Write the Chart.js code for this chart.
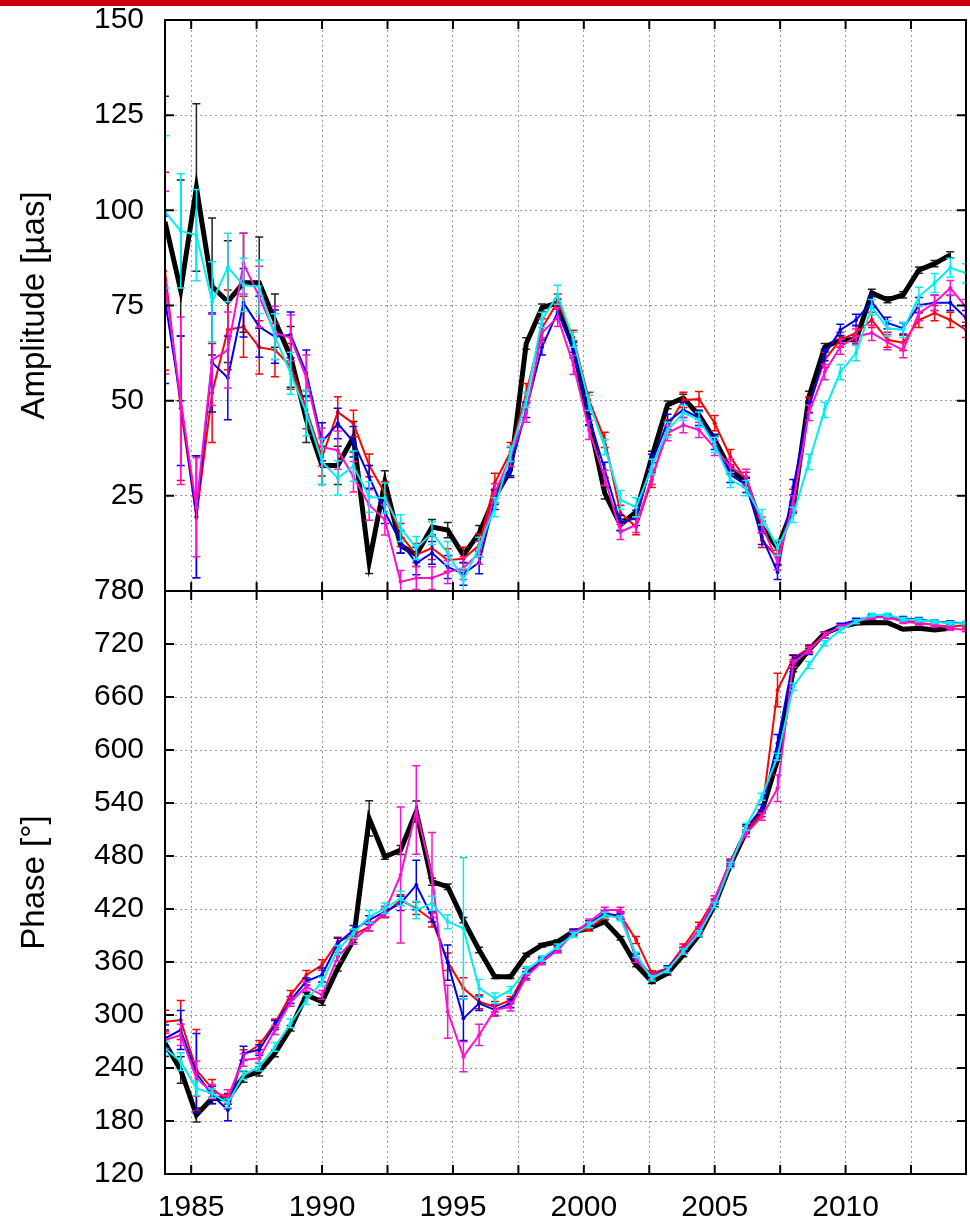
<!DOCTYPE html>
<html>
<head>
<meta charset="utf-8">
<title>Amplitude and phase</title>
<script src="https://cdn.jsdelivr.net/npm/chart.js@4.4.1/dist/chart.umd.min.js"></script>
<style>
  html, body { margin: 0; padding: 0; background: #fff; }
  #wrap { position: relative; width: 970px; height: 1223px; overflow: hidden; }
  #topbar { position: absolute; left: 0; top: 0; width: 970px; height: 6px; background: #c8000b; }
  canvas { position: absolute; left: 0; top: 0; }
</style>
</head>
<body>
<div id="wrap">
  <canvas id="amp-chart" width="970" height="1223"></canvas>
  <canvas id="phase-chart" width="970" height="1223"></canvas>
  <div id="topbar"></div>
</div>
<script>
// epochs of the solutions (years)
const epochs = [1984.0, 1984.6, 1985.2, 1985.8, 1986.4, 1987.0, 1987.6, 1988.2, 1988.8, 1989.4,
  1990.0, 1990.6, 1991.2, 1991.8, 1992.4, 1993.0, 1993.6, 1994.2, 1994.8, 1995.4,
  1996.0, 1996.6, 1997.2, 1997.8, 1998.4, 1999.0, 1999.6, 2000.2, 2000.8, 2001.4,
  2002.0, 2002.6, 2003.2, 2003.8, 2004.4, 2005.0, 2005.6, 2006.2, 2006.8, 2007.4,
  2008.0, 2008.6, 2009.2, 2009.8, 2010.4, 2011.0, 2011.6, 2012.2, 2012.8, 2013.4,
  2014.0, 2014.6];

const xTickValues = [1985, 1987.5, 1990, 1992.5, 1995, 1997.5, 2000, 2002.5, 2005, 2007.5, 2010, 2012.5];
const xTickLabels = ['1985', '', '1990', '', '1995', '', '2000', '', '2005', '', '2010', ''];

// amplitude [µas]
const ampBlack = [97, 79, 106, 80, 76, 81, 81, 71, 61.5, 45, 33, 33, 40.5, 7.6, 28.6, 12, 9.5, 16.8, 16, 9.4,
  15.2, 24.7, 31.8, 65, 74.4, 75.7, 64.2, 45, 25.7, 17.4, 20.8, 35.2, 48.9, 50.7, 46.2, 39.7, 31.8, 28.6, 16.8, 11.3,
  22, 51, 64, 66, 66, 78.3, 76.5, 77.8, 84.3, 86, 88.3, null];
const ampRed = [84, 48, 19.5, 52, 68.6, 69.4, 64, 63.3, 59, 47.6, 35.2, 47, 44, 33, 25.7, 14.7, 9.5, 11.3, 8.1, 8.5,
  12, 28.4, 36.5, 52, 69, 76, 66.5, 50.2, 39.7, 20.5, 16.8, 29.2, 43, 50.2, 50.4, 44.1, 35.2, 29.2, 13.4, 8.7,
  24.7, 48.9, 60.7, 66, 67.8, 71.2, 66, 65.2, 71.2, 73, 71.2, 68.6];
const ampBlue = [76.5, 50, 19.5, 60, 56, 75.7, 69.4, 66.8, 67.3, 57.3, 39.2, 44, 39.2, 30, 20.7, 12.9, 7.3, 10, 6.3, 4.5,
  7.5, 23.9, 32.3, 47.6, 64, 73.3, 63.3, 45.7, 31.8, 17.9, 19.2, 33.9, 44.4, 47.6, 45.5, 39.2, 30.5, 27.9, 14.2, 5,
  27.3, 48.3, 62, 68.6, 71.2, 76, 70.4, 69, 75.1, 75.7, 75.7, 71.7];
const ampMagenta = [81, 50, 22, 60.7, 63.3, 86, 77.3, 67.8, 66.5, 56, 37.8, 37, 30, 22.6, 18.7, 2.4, 3.4, 3.4, 5, 6,
  10, 25.7, 35.2, 46.8, 67.8, 72, 59.4, 42.3, 29.7, 15.5, 17.4, 30, 41.5, 43.6, 42.3, 37.6, 32.6, 30, 17.4, 7.6,
  23, 46.8, 57.5, 64.2, 66.8, 67.8, 65.4, 63.3, 73, 75.7, 79.6, 74.6];
const ampCyan = [99.6, 94.6, 93.5, 76, 85, 80.4, 79.9, 66.8, 57.2, 46.8, 33.9, 29.7, 32.8, 24.7, 24.4, 16.5, 11.3, 15.2, 10, 2.9,
  11.6, 22, 36, 50.2, 71.2, 77.8, 66, 49.4, 37.8, 23.9, 22, 32.6, 42.3, 46.8, 45, 38.4, 29.2, 27, 19.4, 11.3,
  20, 33.9, 47.6, 57.5, 62.5, 74.6, 69, 68.6, 77.3, 80.9, 84.9, 83.5];

// amplitude uncertainties
const ampErrBlack = [33, 29, 22, 18, 16, 13, 12, 7, 8, 6, 5, 5, 4, 3, 3, 2, 2, 2, 2, 2,
  2, 2, 2, 1.5, 1, 1, 1.5, 1.5, 1.5, 1.5, 1.5, 1.5, 1, 1, 1, 1, 1, 1, 1.5, 1.5,
  1.5, 1.5, 1, 1, 1, 1, 0.8, 0.8, 0.8, 0.8, 0.8, null];
const ampErrRed = [26, 19, 16, 13, 10.5, 8, 7, 7, 6, 5, 5, 4, 3.5, 3, 3, 3, 3, 3, 3, 3,
  3, 2.5, 2.5, 2.5, 2.5, 2, 2, 2, 2, 2, 2, 2, 2, 2, 2, 2, 2, 2, 2, 2,
  2, 2, 2, 2, 2, 2, 2, 2, 2, 2, 2, 2];
const ampErrBlue = [22, 17, 16, 13, 11, 9, 8, 7, 6, 6, 5, 4, 4, 3, 3, 3, 3, 3, 3, 3,
  3, 2.5, 2, 2, 2, 2, 2, 2, 2, 2, 2, 2, 2, 2, 2, 2, 2, 2, 2, 2,
  2, 1.5, 1.5, 1.5, 1.5, 1.5, 1.5, 1.5, 2, 2, 2, 2];
const ampErrMagenta = [24, 22, 13, 12, 10, 8, 8, 7, 6, 6, 5, 5, 4, 4, 4, 3, 3, 3, 3, 3,
  3, 2.5, 2.5, 2.5, 2.5, 2.5, 2.5, 2.5, 2, 2, 2, 2, 2, 2, 2, 2, 2, 2, 2, 2,
  2, 2, 2, 2, 2, 2, 2, 2, 2, 2, 2, 2];
const ampErrCyan = [20, 15, 12, 10.5, 9, 7, 7, 6, 5.5, 6, 6, 4.5, 4, 4, 4, 3.5, 3, 3, 3, 3,
  2.5, 2.5, 2, 2, 2, 2.5, 2, 2, 2, 2.5, 2.5, 2, 2, 2, 2, 2, 2, 2, 2, 2,
  2, 2, 2, 2, 2, 2, 2, 2, 2.5, 2.5, 2.5, 2.5];

// phase [°]
const phBlack = [268, 237.7, 186.8, 205.7, 205, 230, 236, 256.6, 285, 322.6, 315, 352.8, 385, 522.6, 479.2, 486.8, 530.2, 450.9, 445.2, 407.5,
  373.6, 343.4, 343.4, 368, 379, 383, 394.3, 398, 405.6, 386.8, 356.6, 337.7, 347.2, 368, 390.6, 424.5, 469.8, 507.5, 530.2, 588.7,
  690.6, 713.2, 732, 739.6, 743.4, 744.2, 744, 736.6, 737.7, 735.8, 737.7, null];
const phRed = [292.4, 294.3, 237.7, 217, 201.9, 254.7, 266, 290.6, 322.6, 345.3, 356.6, 383, 390.6, 400, 415, 430, 420.8, 407.5, 360.3, 330.2,
  315, 309.4, 317, 349, 360.3, 373.6, 393.2, 398, 411.3, 413.2, 385, 347.2, 352.8, 377.3, 401.9, 432, 473.6, 509.4, 528.3, 668,
  703.8, 715.1, 730.2, 739.6, 745.2, 750.2, 750.9, 747.2, 744.2, 741.5, 739.6, 741.5];
const phBlue = [273.6, 283, 234, 209.4, 192.4, 256.6, 260.4, 288.7, 317, 338, 345.3, 381, 396.2, 407.5, 416.9, 426.4, 447.2, 411.3, 359.3, 296.2,
  313.2, 305.7, 313.2, 345.3, 362.3, 375.5, 394.3, 403.8, 415.1, 412, 366, 343.4, 352.8, 373.6, 396.2, 428.3, 471.7, 511.3, 534, 607.6,
  701.9, 713, 730.2, 741.5, 747.2, 750.9, 750.9, 749, 748, 745.2, 744.2, 743.4];
const phMagenta = [271.7, 277.4, 228, 213.2, 207.5, 249, 251, 283, 315, 332, 322.6, 366, 385, 400, 416.9, 458.5, 532.1, 458.5, 303.7, 252.8,
  277.4, 305.7, 309.4, 343.4, 360.3, 373.6, 392.5, 405.6, 418.9, 418.9, 362.3, 343.4, 351, 373.6, 396.2, 432, 473.6, 505.7, 524.5, 556.6,
  698.1, 713.2, 730.2, 739.6, 745.2, 750.2, 750.2, 745.2, 743.4, 741.5, 737.7, 735.8];
const phCyan = [262.3, 247.2, 217, 211.3, 200, 232, 241.5, 264, 290.6, 317, 337.7, 373.6, 392.5, 411.3, 420.8, 432, 418.9, 426.4, 405.6, 398,
  330.2, 318.9, 328.3, 351, 364.2, 377.3, 390.6, 401.9, 413.2, 409.5, 368, 341.5, 351, 371.7, 392.5, 424.5, 469.8, 513.2, 547.1, 592.4,
  671.7, 696.2, 720.8, 735.8, 745.2, 752.8, 752.8, 748, 747.2, 745.2, 743.4, 743.4];

// phase uncertainties
const phErrBlack = [15, 15, 8, 6, 6, 6, 5, 4, 3, 3, 4, 3, 3, 20, 3, 5, 12, 4, 3, 3,
  3, 2, 2, 2, 2, 2, 2, 2, 2, 2, 2, 2, 2, 2, 2, 2, 2, 2, 2, 2,
  2, 2, 2, 1, 1, 1, 1, 1, 1, 1, 1, null];
const phErrRed = [13, 22, 46, 10, 8, 6, 5, 5, 5, 5, 6, 5, 5, 5, 5, 6, 7, 8, 10, 12,
  8, 6, 4, 4, 3, 3, 3, 3, 3, 4, 4, 3, 3, 3, 3, 3, 3, 4, 4, 19,
  4, 4, 3, 2, 2, 2, 2, 2, 2, 2, 2, 2];
const phErrBlue = [15, 22, 45, 10, 12, 8, 6, 5, 4, 4, 8, 6, 5, 5, 6, 8, 28, 6, 20, 25,
  8, 6, 5, 4, 3, 3, 3, 3, 3, 3, 3, 3, 3, 3, 3, 3, 3, 4, 4, 10,
  5, 5, 3, 2, 2, 2, 2, 2, 2, 2, 2, 2];
const phErrMagenta = [10, 12, 20, 8, 8, 7, 6, 5, 5, 5, 5, 5, 5, 5, 6, 77, 50, 48, 30, 17,
  12, 7, 5, 4, 3, 3, 3, 3, 3, 3, 3, 3, 3, 3, 3, 3, 3, 4, 4, 15,
  4, 4, 3, 2, 2, 2, 2, 2, 2, 2, 2, 2];
const phErrCyan = [8, 10, 8, 5, 5, 5, 5, 5, 5, 5, 5, 5, 5, 7, 6, 8, 10, 8, 8, 80,
  10, 6, 4, 4, 3, 3, 3, 3, 3, 3, 3, 3, 3, 3, 3, 3, 3, 4, 4, 4,
  4, 4, 3, 3, 2, 2, 2, 2, 2, 2, 2, 2];

const FONT = "'Liberation Sans', Arial, Helvetica, sans-serif";
Chart.defaults.font.family = FONT;
Chart.defaults.color = '#000';

// error bars drawn with each dataset, using its own y scale
const errorBars = {
  id: 'errorBars',
  beforeDatasetDraw(chart, args) {
    const ds = chart.data.datasets[args.index];
    if (!ds.errors) return;
    const meta = args.meta;
    const yScale = chart.scales[meta.yAxisID];
    const a = chart.chartArea;
    const ctx = chart.ctx;
    ctx.save();
    ctx.beginPath();
    ctx.rect(a.left, a.top, a.right - a.left, a.bottom - a.top);
    ctx.clip();
    ctx.strokeStyle = ds.errorColor || ds.borderColor;
    ctx.lineWidth = 1.5;
    ctx.beginPath();
    meta.data.forEach((pt, i) => {
      const v = ds.data[i].y;
      const e = ds.errors[i];
      if (v == null || e == null) return;
      const y1 = yScale.getPixelForValue(v - e);
      const y2 = yScale.getPixelForValue(v + e);
      ctx.moveTo(pt.x, y1); ctx.lineTo(pt.x, y2);
      ctx.moveTo(pt.x - 4, y1); ctx.lineTo(pt.x + 4, y1);
      ctx.moveTo(pt.x - 4, y2); ctx.lineTo(pt.x + 4, y2);
    });
    ctx.stroke();
    ctx.restore();
  }
};

// frame with inward tick marks (gnuplot style)
const frameTicks = {
  id: 'frameTicks',
  afterDraw(chart) {
    const { ctx, chartArea: a, scales } = chart;
    const xs = scales.x, ys = scales.y;
    ctx.save();
    ctx.strokeStyle = '#000';
    ctx.lineWidth = 2;
    ctx.beginPath();
    xs.ticks.forEach(t => {
      const px = xs.getPixelForValue(t.value);
      ctx.moveTo(px, a.top); ctx.lineTo(px, a.top + 9);
      ctx.moveTo(px, a.bottom); ctx.lineTo(px, a.bottom - 9);
    });
    ys.ticks.forEach(t => {
      const py = ys.getPixelForValue(t.value);
      ctx.moveTo(a.left, py); ctx.lineTo(a.left + 9, py);
      ctx.moveTo(a.right, py); ctx.lineTo(a.right - 9, py);
    });
    ctx.stroke();
    ctx.strokeRect(a.left, a.top, a.right - a.left, a.bottom - a.top);
    ctx.restore();
  }
};

const toPoints = (vals) => epochs.map((t, i) => ({ x: t, y: vals[i] }));

const makeDataset = (vals, errs, color, width, radius, errorColor) => ({
  data: toPoints(vals),
  errors: errs,
  errorColor: errorColor,
  borderColor: color,
  backgroundColor: color,
  borderWidth: width,
  pointRadius: radius,
  pointBorderWidth: 0,
  pointBackgroundColor: color,
  tension: 0,
  clip: 0
});

const COLORS = { black: '#000000', red: '#ff0000', blue: '#0000f0', magenta: '#ff10cc', cyan: '#00eef0' };

const xScale = (showLabels) => ({
  type: 'linear',
  min: 1984,
  max: 2014.6,
  afterBuildTicks: (s) => { s.ticks = xTickValues.map(v => ({ value: v })); },
  afterFit: (s) => {
    s.height = showLabels ? 49 : 0;
    s.paddingLeft = 0;
    s.paddingRight = 0;
  },
  grid: { color: '#9a9a9a', lineWidth: 1, drawTicks: false },
  border: { display: false, dash: [2, 3] },
  ticks: {
    display: showLabels,
    autoSkip: false,
    maxRotation: 0,
    padding: 16,
    font: { size: 30 },
    callback: (v, i) => xTickLabels[i]
  }
});

const yScale = (min, max, step, title) => ({
  type: 'linear',
  min: min,
  max: max,
  afterFit: (s) => {
    s.width = 165;
    s.paddingTop = 0;
    s.paddingBottom = 0;
  },
  grid: { color: '#9a9a9a', lineWidth: 1, drawTicks: false },
  border: { display: false, dash: [2, 3] },
  ticks: { stepSize: step, padding: 21, font: { size: 30 } },
  title: { display: true, text: title, font: { size: 33 }, padding: { top: 15, bottom: 0 } }
});

const baseOptions = (padding, showX, yOpts) => ({
  responsive: false,
  animation: false,
  devicePixelRatio: 1,
  layout: { padding: padding },
  plugins: { legend: { display: false }, tooltip: { enabled: false } },
  scales: { x: xScale(showX), y: yOpts }
});

new Chart(document.getElementById('amp-chart').getContext('2d'), {
  type: 'line',
  data: {
    datasets: [
      makeDataset(ampCyan, ampErrCyan, COLORS.cyan, 2, 2),
      makeDataset(ampMagenta, ampErrMagenta, COLORS.magenta, 2, 2),
      makeDataset(ampBlue, ampErrBlue, COLORS.blue, 2, 2),
      makeDataset(ampRed, ampErrRed, COLORS.red, 2, 2),
      makeDataset(ampBlack, ampErrBlack, COLORS.black, 5, 0, '#222')
    ]
  },
  options: baseOptions({ top: 20, bottom: 632, left: 0, right: 3 }, false,
    yScale(0, 150, 25, 'Amplitude [µas]')),
  plugins: [errorBars, frameTicks]
});

new Chart(document.getElementById('phase-chart').getContext('2d'), {
  type: 'line',
  data: {
    datasets: [
      makeDataset(phCyan, phErrCyan, COLORS.cyan, 2, 2),
      makeDataset(phMagenta, phErrMagenta, COLORS.magenta, 2, 2),
      makeDataset(phBlue, phErrBlue, COLORS.blue, 2, 2),
      makeDataset(phRed, phErrRed, COLORS.red, 2, 2),
      makeDataset(phBlack, phErrBlack, COLORS.black, 5, 0, '#222')
    ]
  },
  options: baseOptions({ top: 591, bottom: 0, left: 0, right: 3 }, true,
    yScale(120, 780, 60, 'Phase [°]')),
  plugins: [errorBars, frameTicks]
});
</script>
</body>
</html>
